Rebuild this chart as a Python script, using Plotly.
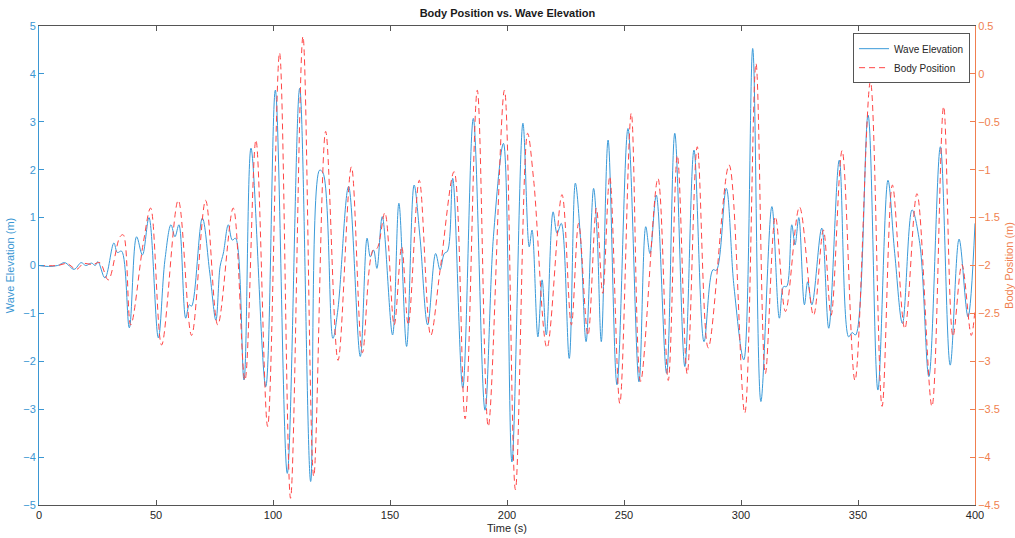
import plotly.graph_objects as go

# Wave elevation (m) read at turning points
wave_t = [0, 4, 8, 11, 15, 18, 20, 22.5, 24, 25.2, 28.2, 32, 33.5, 35.3, 38.6, 41.7, 44.2, 47,
          51, 53.8, 56.4, 58.1, 59.8, 62.7, 64.2, 65.2, 69.8, 73, 75.6, 77.4, 78.8, 80.9, 82.6, 84,
          87.6, 90.6, 96.9, 101, 106.1, 111.4, 116.1, 119.9, 121.4, 125.6, 127.7, 132.3, 137.3,
          140.2, 141.6, 143, 144.4, 146.7, 151.1, 153.8, 157.1, 160.3, 162.8, 166.1, 169.5, 171.4,
          173.2, 174.6, 176.8, 181.1, 185.6, 190.6, 194.2, 198.5, 202.1, 206.8, 209.5, 210.7, 213.2,
          215, 216.8, 219.7, 221.4, 223.2, 226.6, 229.2, 231.5, 233.8, 237, 238.5, 240.3, 243.2, 247,
          251.7, 256.4, 259.3, 261.1, 263.8, 268.2, 271.7, 276, 279.9, 284.2, 288, 289.5, 293.7, 297,
          301.2, 305, 308.5, 313.2, 316.4, 318.2, 319.5, 321.7, 323.1, 324.7, 327.1, 328.5, 330.3,
          334.5, 337.5, 342, 346, 347.5, 349, 354.3, 358.5, 362.8, 365.7, 369, 373.1, 376.4, 380.3,
          385.2, 389.4, 393.2, 397, 400]
wave_y = [0, -0.02, 0.0, 0.06, -0.08, 0.06, 0.0, 0.05, 0.0, 0.08, -0.26, 0.47, 0.27, 0.3, -1.3, 0.6, 0.22, 1.0,
          -1.51, 0.11, 0.85, 0.6, 0.85, -1.1, -0.82, -0.85, 0.99, -0.16, -1.14, -0.02, 0.26, 0.85, 0.53, 0.57,
          -2.39, 2.45, -2.53, 3.66, -4.34, 3.70, -4.51, 1.99, 1.93, -1.52, -0.93, 1.65, -1.90,
          0.57, 0.18, 0.32, -0.06, 1.02, -1.45, 1.30, -1.69, 1.68, 0.6, -1.24, 0.25, -0.09,
          0.25, 0.3, 1.82, -2.56, 3.07, -3.02, 0.6, 2.55, -4.10, 2.97, 0.39, 0.74, -1.49,
          -0.30, -1.45, 1.12, 0.67, 0.88, -1.94, 1.72, 0.5, -1.59, 1.61, 0.67, -1.59, 2.62, -2.49,
          2.86, -2.43, 0.81, 0.25, 1.47, -2.25, 2.76, -2.11, 2.41, -1.59, -0.09, -0.1, 1.61, -0.44,
          -1.97, 4.53, -2.84, 1.23, -1.10, -0.44, -0.44, 0.85, 0.43, 1.0, -0.82, -0.34, -0.82,
          0.78, -1.31, 2.20, -1.49, -1.40, -1.45, 3.14, -2.60, 1.78, 0.25, -1.21, 1.16, 0.46, -2.32,
          2.48, -2.08, 0.55, -1.07, 0.88]

# Body position (m) read at turning points
body_t = [0, 8, 12, 16, 19, 23, 26, 29.6, 34.6, 36, 39.2, 44.6, 47.7, 52.4, 59.5, 65.2, 71.2, 76.4, 83,
          88, 92.7, 97.7, 102.8, 107.5, 112.8, 117.4, 122.5, 127.8, 133.5, 138.2, 142.7, 144.5, 147.8,
          151.8, 155, 157.8, 162.5, 167.4, 171.4, 177.4, 182.1, 187.3, 192, 198.9, 203.6, 208.8, 211.4,
          217.1, 223.5, 227.5, 230.6, 234.6, 238.2, 240.9, 243.9, 248.2, 253.1, 257.1, 264.5, 268.9,
          272.8, 277, 281.3, 286, 294.9, 301.6, 306.4, 310.4, 314.7, 319, 325, 331, 335.2, 338.5,
          343.2, 348.7, 355.3, 360.3, 364.7, 370, 375.2, 381.6, 386.6, 390.6, 394.4, 398.4, 400]
body_y = [-2, -2.0, -1.98, -2.04, -1.98, -1.99, -1.97, -2.15, -1.7, -1.68, -2.62, -1.76, -1.40, -2.83, -1.32,
          -2.73, -1.32, -2.62, -1.40, -3.2, -0.69, -3.68, 0.22, -4.43, 0.39, -4.2, -0.60, -2.99, -0.97,
          -2.91, -1.84, -1.82, -1.45, -2.62, -1.80, -2.62, -1.11, -2.73, -2.05, -1.02, -3.6, -0.17, -3.68,
          -0.17, -4.34, -0.62, -1.11, -2.86, -1.26, -2.62, -1.56, -2.73, -1.40, -2.29, -1.07, -3.44,
          -0.41, -3.21, -1.09, -3.2, -0.85, -3.13, -0.76, -2.86, -0.95, -3.54, 0.11, -3.13, -1.49,
          -2.48, -1.39, -2.52, -1.63, -2.52, -0.80, -3.2, -0.08, -3.47, -1.16, -2.66, -1.25, -3.47,
          -0.34, -2.74, -1.99, -2.73, -2.46]

x_ticks = [0, 50, 100, 150, 200, 250, 300, 350, 400]
left_ticks = [-5, -4, -3, -2, -1, 0, 1, 2, 3, 4, 5]
right_ticks = [-4.5, -4, -3.5, -3, -2.5, -2, -1.5, -1, -0.5, 0, 0.5]

LEFT_C = "#3B97D3"
RIGHT_C = "#F07F50"
FONT = "Liberation Sans, Arial, sans-serif"

fig = go.Figure()
fig.add_trace(go.Scatter(x=wave_t, y=wave_y, mode="lines", name="Wave Elevation",
                         line=dict(color="#3A9AD9", width=1.0, shape="spline", smoothing=1.0)))
fig.add_trace(go.Scatter(x=body_t, y=body_y, mode="lines", name="Body Position", yaxis="y2",
                         line=dict(color="#FF4545", width=1.0, dash="6px,4px", shape="spline", smoothing=1.0)))

fig.update_layout(
    width=1015, height=538,
    margin=dict(l=39, r=40, t=26, b=33, autoexpand=False),
    paper_bgcolor="white", plot_bgcolor="white",
    font=dict(family=FONT, size=11, color="#262626"),
    title=dict(text="<b>Body Position vs. Wave Elevation</b>", x=0.5, xanchor="center",
               y=1 - 13 / 538, yanchor="middle", font=dict(size=11, color="#1a1a1a")),
    showlegend=True,
    legend=dict(x=0.9947, y=0.985, xanchor="right", yanchor="top", bgcolor="white",
                bordercolor="#555555", borderwidth=1, font=dict(size=10, color="#262626"),
                tracegroupgap=0, itemwidth=30),
    xaxis=dict(range=[0, 400], tickvals=x_ticks, ticks="inside", ticklen=5, tickcolor="#555555",
               showline=True, linecolor="#555555", linewidth=1, mirror="ticks", showgrid=False,
               zeroline=False, automargin=False, tickfont=dict(size=11, color="#262626"),
               title=dict(text="Time (s)", font=dict(size=11, color="#262626"), standoff=4)),
    yaxis=dict(range=[-5, 5], tickvals=left_ticks, ticks="inside", ticklen=5, tickcolor=LEFT_C,
               showline=True, linecolor=LEFT_C, linewidth=1, showgrid=False, zeroline=False,
               automargin=False, tickfont=dict(size=11, color=LEFT_C),
               title=dict(text="Wave Elevation (m)", font=dict(size=11, color=LEFT_C), standoff=6)),
    yaxis2=dict(range=[-4.5, 0.5], tickvals=right_ticks, overlaying="y", side="right",
                ticks="inside", ticklen=5, tickcolor=RIGHT_C, showline=True, linecolor=RIGHT_C,
                linewidth=1, showgrid=False, zeroline=False, automargin=False,
                tickfont=dict(size=11, color=RIGHT_C),
                title=dict(text="Body Position (m)", font=dict(size=11, color=RIGHT_C), standoff=6)),
)

fig.write_html("out.html", config={"displayModeBar": False},
               post_script="document.body.style.margin='0';document.body.style.overflow='hidden';")
